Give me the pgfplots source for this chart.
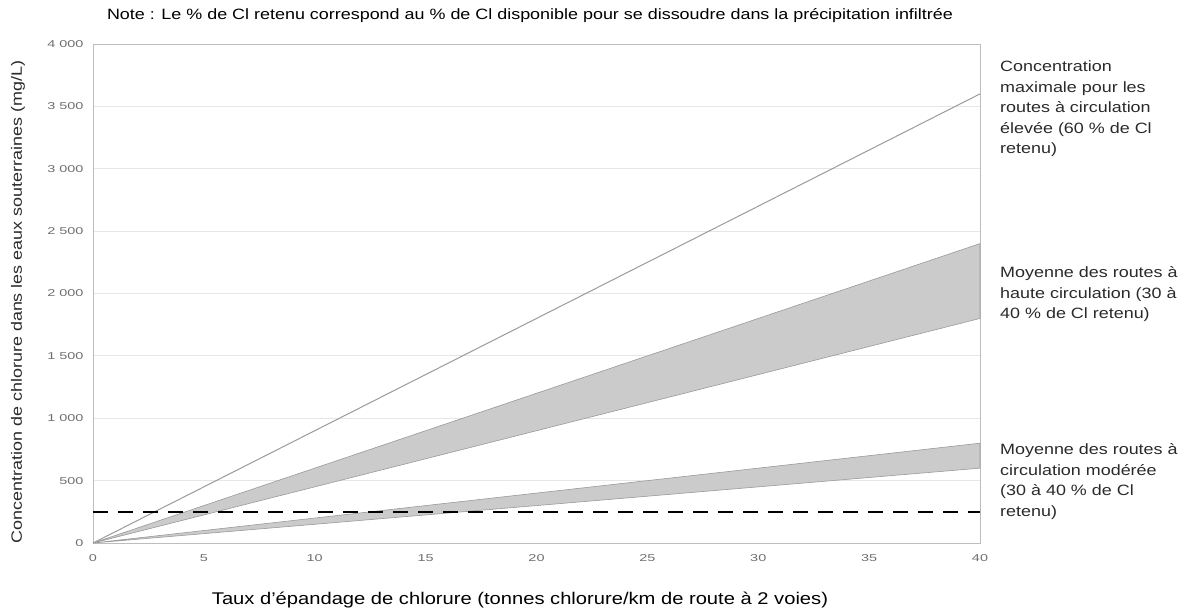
\documentclass[border=0pt]{standalone}
\usepackage{pgfplots}
\pgfplotsset{compat=1.18}
\usetikzlibrary{calc}
\usepackage{graphicx}
\usepackage{fontspec}
\setmainfont{Liberation Sans}
\definecolor{tick}{HTML}{6E6E6E}
\definecolor{gridc}{HTML}{E6E6E6}
\definecolor{framec}{HTML}{BDBDBD}
\definecolor{bandfill}{HTML}{CBCBCB}
\definecolor{bandline}{HTML}{9A9A9A}
\definecolor{txt}{HTML}{2A2A2A}
\begin{document}
\begin{tikzpicture}
\begin{axis}[
  scale only axis, width=887bp, height=499bp,
  xmin=0, xmax=40, ymin=0, ymax=4000,
  xtick={0,5,...,40}, ytick={0,500,...,4000},
  major tick length=0pt,
  ymajorgrids, grid style={gridc, line width=0.8pt},
  axis line style={framec, line width=0.8pt},
  tick label style={font=\fontsize{10}{12}\selectfont, color=tick},
  /pgf/number format/assume math mode=true,
  /pgf/number format/1000 sep={\ },
  xticklabel={\scalebox{1.45}[1]{\pgfmathprintnumber{\tick}}},
  yticklabel={\scalebox{1.45}[1]{\pgfmathprintnumber{\tick}}},
  xticklabel style={yshift=-8bp},
  yticklabel style={xshift=-6bp},
  clip=false,
]
\coordinate (O) at (axis cs:0,0);
\addplot[fill=bandfill, draw=bandline, line width=0.6pt] coordinates {(0,0) (40,2400) (40,1800) (0,0)};
\addplot[fill=bandfill, draw=bandline, line width=0.6pt] coordinates {(0,0) (40,800) (40,600) (0,0)};
\addplot[bandline, line width=1pt] coordinates {(0,0) (40,3600)};
\addplot[black, line width=2.4bp, dash pattern=on 15bp off 10bp] coordinates {(0,250) (40,250)};
\end{axis}
\path (O) ++(-93bp,-71bp) rectangle ++(1194bp,614bp);
\node[font=\fontsize{15}{18}\selectfont, color=black, anchor=base] at ($(O)+(437bp,523bp)$) {\scalebox{1.2}[1]{Note : Le \% de Cl retenu correspond au \% de Cl disponible pour se dissoudre dans la précipitation infiltrée}};
\node[font=\fontsize{17}{20}\selectfont, color=black, anchor=base] at ($(O)+(427bp,-61bp)$) {\scalebox{1.19}[1]{Taux d’épandage de chlorure (tonnes chlorure/km de route à 2 voies)}};
\node[font=\fontsize{15}{18}\selectfont, txt, rotate=90] at ($(O)+(-75bp,241bp)$) {\scalebox{1.2}[1]{Concentration de chlorure dans les eaux souterraines (mg/L)}};
\begin{scope}[every node/.style={font=\fontsize{15}{20.5}\selectfont, color=txt, anchor=base west, inner sep=0pt}]
\node at ($(O)+(907bp,471bp)$) {\scalebox{1.2}[1]{\begin{tabular}[t]{@{}l@{}}Concentration\\maximale pour les\\routes à circulation\\élevée (60 \% de Cl\\retenu)\end{tabular}}};
\node at ($(O)+(907bp,265bp)$) {\scalebox{1.2}[1]{\begin{tabular}[t]{@{}l@{}}Moyenne des routes à\\haute circulation (30 à\\40 \% de Cl retenu)\end{tabular}}};
\node at ($(O)+(907bp,88bp)$) {\scalebox{1.2}[1]{\begin{tabular}[t]{@{}l@{}}Moyenne des routes à\\circulation modérée\\(30 à 40 \% de Cl\\retenu)\end{tabular}}};
\end{scope}
\end{tikzpicture}
\end{document}
